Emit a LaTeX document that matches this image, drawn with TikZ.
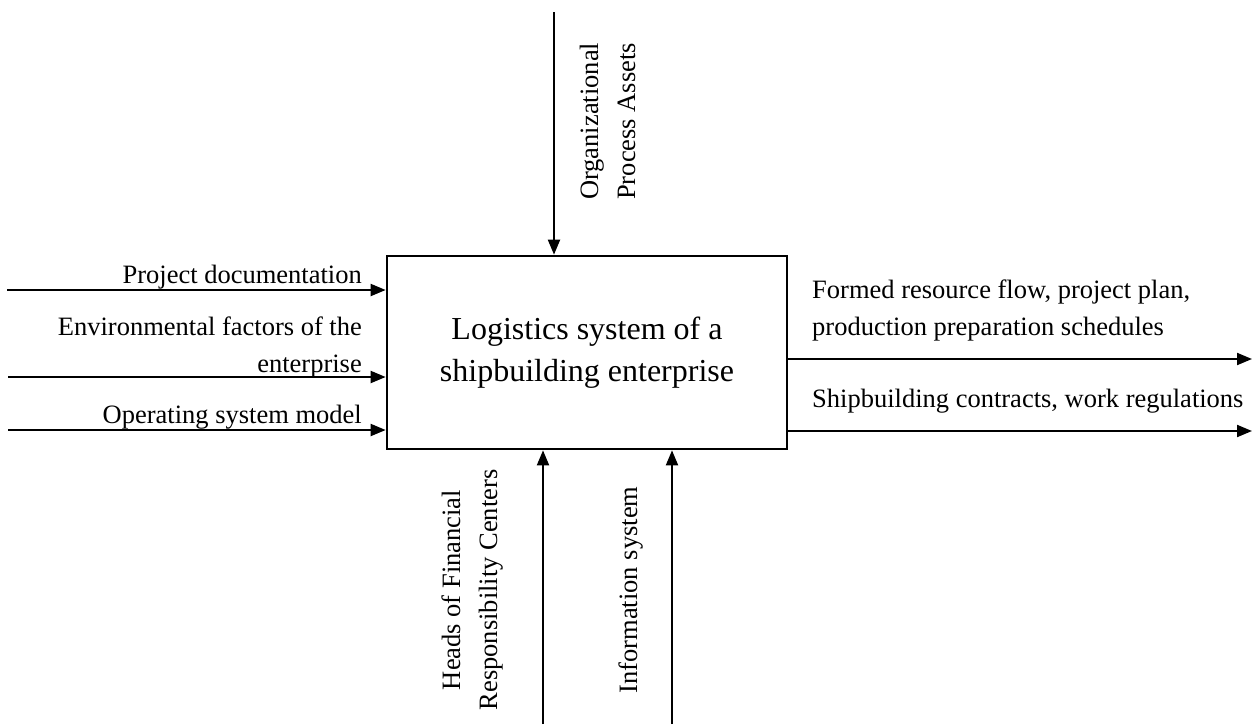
\documentclass[tikz,border=0pt]{standalone}
\usepackage{fontspec}
\setmainfont{Liberation Serif}
\usetikzlibrary{arrows.meta}
\begin{document}
\begin{tikzpicture}[x=1pt,y=-1pt,
  arr/.style={line width=2pt,-{Triangle[length=15pt,width=12pt]}},
  lbl/.style={inner sep=0pt,font=\fontsize{26.5}{37}\selectfont},
  sysbox/.style={draw,line width=2.7pt,minimum width=400pt,minimum height=193pt,
    align=center,font=\fontsize{32}{42}\selectfont}]
\useasboundingbox (0,0) rectangle (1254,724);

% central activity box
\node[sysbox] (sys) at (587,352.5) {Logistics system of a\\shipbuilding enterprise};

% inputs (left)
\coordinate (in1) at (7,290);
\coordinate (in2) at (8,377);
\coordinate (in3) at (8,430);
\draw[arr] (in1) -- (in1 -| sys.west);
\draw[arr] (in2) -- (in2 -| sys.west);
\draw[arr] (in3) -- (in3 -| sys.west);
\node[lbl,anchor=base east] (l1) at (362,283) {Project documentation};
\node[lbl,anchor=base east,align=right] (l2) at (362,372) {Environmental factors of the\\enterprise};
\node[lbl,anchor=base east] (l3) at (362,423) {Operating system model};

% control (top)
\coordinate (ctl) at (554,12);
\draw[arr] (ctl) -- (ctl |- sys.north);
\node[lbl,anchor=base west,align=left,rotate=90] (lc) at (635,200) {Organizational\\Process Assets};

% mechanisms (bottom)
\coordinate (m1) at (543,724);
\coordinate (m2) at (672,724);
\draw[arr] (m1) -- (m1 |- sys.south);
\draw[arr] (m2) -- (m2 |- sys.south);
\node[lbl,anchor=base,align=center,rotate=90] (lm1) at (497,590) {Heads of Financial\\Responsibility Centers};
\node[lbl,anchor=base,rotate=90] (lm2) at (637,590) {Information system};

% outputs (right)
\coordinate (o1) at (1252,359);
\coordinate (o2) at (1252,431);
\draw[arr] (o1 -| sys.east) -- (o1);
\draw[arr] (o2 -| sys.east) -- (o2);
\node[lbl,anchor=base west,align=left] (lo1) at (812,335) {Formed resource flow, project plan,\\production preparation schedules};
\node[lbl,anchor=base west] (lo2) at (812,407) {Shipbuilding contracts, work regulations};
\end{tikzpicture}
\end{document}
